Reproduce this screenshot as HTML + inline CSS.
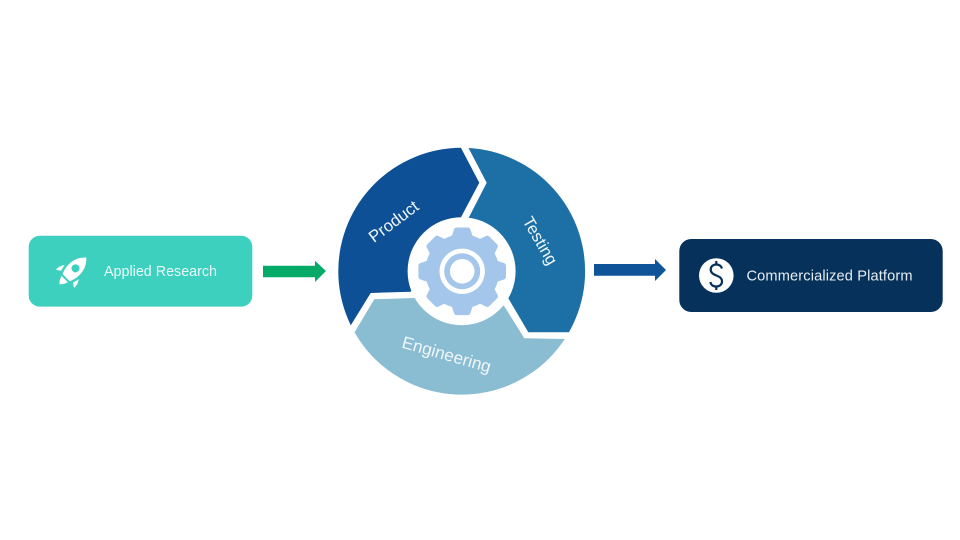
<!DOCTYPE html>
<html><head><meta charset="utf-8"><style>
html,body{margin:0;padding:0;background:#fff;width:960px;height:540px;overflow:hidden}
svg{display:block}
text{font-family:"Liberation Sans",sans-serif}
</style></head><body>
<svg width="960" height="540" viewBox="0 0 960 540" xmlns="http://www.w3.org/2000/svg">
<defs><clipPath id="c"><circle cx="461.7" cy="271.2" r="123.4"/></clipPath></defs>
<rect width="960" height="540" fill="#fff"/>
<rect x="28.7" y="235.8" width="223.6" height="70.8" rx="11" fill="#3dd0bf"/>
<rect x="679.3" y="239" width="263.4" height="73" rx="12" fill="#06315a"/>
<polygon points="263,265.7 315,265.7 315,260.7 326,271 315,282 315,277.3 263,277.3" fill="#04ab68"/>
<polygon points="594,264 655,264 655,259 666,270 655,281 655,275.7 594,275.7" fill="#0f5499"/>
<g clip-path="url(#c)">
<polygon points="450,127 479.3,182.7 461,217.3 410.7,291.7 370.7,293 330,359 300,300 300,127" fill="#0d5095"/>
<polygon points="457.7,127.3 486.7,182.7 468.7,217.7 508.3,298.3 528.3,332.3 620,332.3 620,127" fill="#1d70a6"/>
<polygon points="330,373.6 374.3,299.3 413.3,298 504,305.7 524.3,338.3 620,340 620,420 330,420" fill="#8abcd2"/>
</g>
<circle cx="461.6" cy="271.2" r="54" fill="#fff"/>
<g transform="translate(462.2,271.3)" fill="#a3c6ea">
<circle r="37"/>
<g id="t"><path d="M-10.5,-35 L-8.2,-41.8 Q-7.5,-43.8 -5.5,-43.8 L5.5,-43.8 Q7.5,-43.8 8.2,-41.8 L10.5,-35Z"/></g>
<use href="#t" transform="rotate(45)"/><use href="#t" transform="rotate(90)"/><use href="#t" transform="rotate(135)"/><use href="#t" transform="rotate(180)"/><use href="#t" transform="rotate(225)"/><use href="#t" transform="rotate(270)"/><use href="#t" transform="rotate(315)"/>
<circle r="22.7" fill="#fff"/><circle r="18" fill="#a3c6ea"/><circle r="12.3" fill="#fff"/>
</g>
<g fill="#f0f7fa" text-anchor="middle">
<text transform="translate(397,226) rotate(-37)" font-size="16.7">Product</text>
<text transform="translate(535.3,243.5) rotate(60)" font-size="16.6">Testing</text>
<text transform="translate(445,360) rotate(16)" font-size="17.2">Engineering</text>
</g>
<g transform="translate(72.5,271.3) rotate(45)" fill="#fff">
<path fill-rule="evenodd" d="M0,-19.5 C6,-14 7.6,-8 7.6,-2 C7.6,2 6.5,6 5,9 L-5,9 C-6.5,6 -7.6,2 -7.6,-2 C-7.6,-8 -6,-14 0,-19.5Z M0,-8.2 A4,4 0 1 0 0.01,-8.2Z"/>
<path d="M-10,1 C-12,4 -13,7 -13,10.5 C-11.5,10 -10,9 -8.5,7.5Z"/>
<path d="M10,1 C12,4 13,7 13,10.5 C11.5,10 10,9 8.5,7.5Z"/>
<path d="M-4.5,11 L4.5,11 L3,15 L0,18.5 L-3,15Z"/>
</g>
<text x="104" y="276" font-size="14.3" fill="#e9f9f7" textLength="113" lengthAdjust="spacing">Applied Research</text>
<circle cx="716.3" cy="275.5" r="17.3" fill="#fff"/>
<g fill="none" stroke="#06315a" stroke-width="2.2">
<path d="M722,268.5 C721,265.5 719,264.5 716.3,264.5 C712.5,264.5 710.7,267 710.7,269.5 C710.7,273 713.5,274.3 716.3,275.5 C719.5,276.8 722,278 722,281.5 C722,284.3 719.8,286.5 716.3,286.5 C713,286.5 711,285 710.3,282"/>
<path d="M716.3,261 V265 M716.3,286 V290"/>
</g>
<text x="746.5" y="280.5" font-size="14.6" fill="#e6edf3" textLength="166" lengthAdjust="spacing">Commercialized Platform</text>
</svg>
</body></html>
